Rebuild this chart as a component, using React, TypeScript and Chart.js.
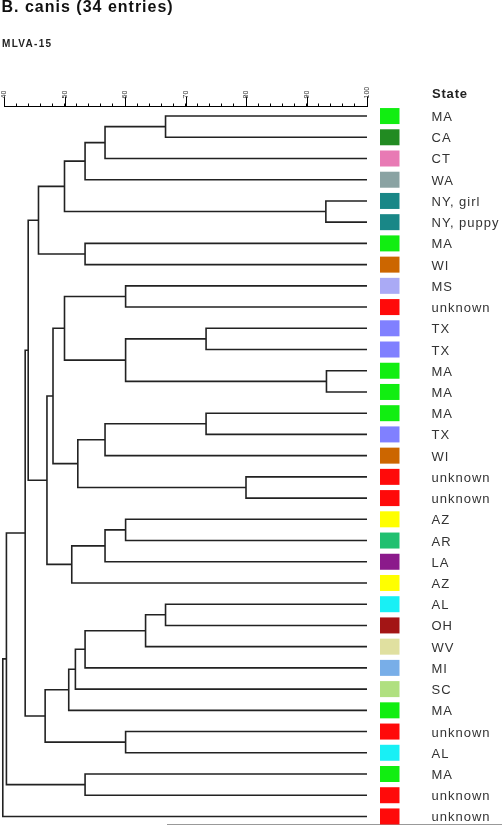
import React, { useEffect, useRef } from 'react';
import { Chart, registerables } from 'chart.js';

Chart.register(...registerables);

const states = ['MA', 'CA', 'CT', 'WA', 'NY, girl', 'NY, puppy', 'MA', 'WI', 'MS', 'unknown', 'TX', 'TX', 'MA', 'MA', 'MA', 'TX', 'WI', 'unknown', 'unknown', 'AZ', 'AR', 'LA', 'AZ', 'AL', 'OH', 'WV', 'MI', 'SC', 'MA', 'unknown', 'AL', 'MA', 'unknown', 'unknown'];

const stateColorMap: Record<string, string> = {
  'MA': '#11ee11', 'CA': '#228b22', 'CT': '#e87ab4', 'WA': '#8aa3a3', 'NY, girl': '#198787', 'NY, puppy': '#198787',
  'WI': '#cc6600', 'MS': '#aaaaf5', 'unknown': '#ff0a0a', 'TX': '#8080ff', 'AZ': '#ffff00', 'AR': '#20c070',
  'LA': '#8b1a8b', 'AL': '#18f0f5', 'OH': '#a31515', 'WV': '#e0e0a0', 'MI': '#78aee8', 'SC': '#b0e080',
};

// linkage: node 34+k merges mergeA[k] and mergeB[k] at similarity mergeHeight[k]
const mergeA = [0, 34, 35, 4, 36, 6, 38, 8, 10, 12, 42, 41, 14, 46, 17, 47, 45, 19, 51, 52, 50, 40, 23, 56, 57, 58, 59, 29, 60, 55, 31, 63, 65];
const mergeB = [1, 2, 3, 5, 37, 7, 39, 9, 11, 13, 43, 44, 15, 16, 18, 48, 49, 20, 21, 22, 53, 54, 24, 25, 26, 27, 28, 30, 61, 62, 32, 64, 33];
const mergeHeight = [66.7, 56.7, 53.4, 93.2, 50.0, 53.4, 45.7, 60.1, 73.4, 93.3, 60.1, 50.0, 73.4, 56.7, 80.0, 52.2, 48.1, 60.1, 56.7, 51.2, 47.1, 44.0, 66.7, 63.4, 53.4, 51.8, 50.7, 60.1, 46.8, 43.5, 53.4, 40.4, 39.8];
const leafLevel = 100;
const axisLabels = [40, 50, 60, 70, 80, 90, 100];

const FONT = 'Arial, "Liberation Sans", sans-serif';

export default function App() {
  const ref = useRef<HTMLCanvasElement | null>(null);

  useEffect(() => {
    const n = states.length;
    const nodeY: number[] = states.map((_, i) => i);
    const nodeH: number[] = states.map(() => leafLevel);
    const datasets: any[] = [];
    for (let k = 0; k < mergeA.length; k++) {
      const a = mergeA[k], b = mergeB[k], h = mergeHeight[k];
      const ya = nodeY[a], yb = nodeY[b];
      nodeY[n + k] = (ya + yb) / 2;
      nodeH[n + k] = h;
      datasets.push({
        data: [
          { x: nodeH[a], y: ya },
          { x: h, y: ya },
          { x: h, y: yb },
          { x: nodeH[b], y: yb },
        ],
        showLine: true,
        borderColor: '#222',
        borderWidth: 1.6,
        pointRadius: 0,
        fill: false,
        tension: 0,
        clip: false,
      });
    }

    const sidePlugin = {
      id: 'sidePlugin',
      afterDraw(chart: any) {
        const ctx = chart.ctx;
        const xs = chart.scales.x;
        const ys = chart.scales.y;
        const base = chart.chartArea.top;
        ctx.save();
        // major ticks and rotated labels
        ctx.strokeStyle = '#000';
        ctx.lineWidth = 1;
        axisLabels.forEach((v) => {
          const px = Math.round(xs.getPixelForValue(v)) + 0.5;
          ctx.beginPath();
          ctx.moveTo(px, base);
          ctx.lineTo(px, base - 10);
          ctx.stroke();
          ctx.save();
          ctx.translate(px, base - 8);
          ctx.rotate(-Math.PI / 2);
          ctx.fillStyle = '#333';
          ctx.font = `7px ${FONT}`;
          ctx.textAlign = 'left';
          ctx.textBaseline = 'middle';
          ctx.fillText(String(v), 0, 0);
          ctx.restore();
        });
        // bottom grey rule
        ctx.strokeStyle = '#999';
        ctx.beginPath();
        ctx.moveTo(167, 824.5);
        ctx.lineTo(502, 824.5);
        ctx.stroke();
        // colour boxes and labels
        states.forEach((s, i) => {
          const py = ys.getPixelForValue(i);
          ctx.fillStyle = stateColorMap[s];
          ctx.fillRect(380, py - 8, 19.5, 16);
          ctx.fillStyle = '#333';
          ctx.font = `13px ${FONT}`;
          (ctx as any).letterSpacing = '1px';
          ctx.textAlign = 'left';
          ctx.textBaseline = 'alphabetic';
          ctx.fillText(s, 431.5, py + 5);
        });
        ctx.restore();
      },
    };

    const chart = new Chart(ref.current as HTMLCanvasElement, {
      type: 'scatter',
      data: { datasets },
      options: {
        animation: false,
        responsive: false,
        events: [],
        layout: { padding: { left: 4, right: 135, top: 0, bottom: 0 } },
        plugins: { legend: { display: false }, tooltip: { enabled: false }, title: { display: false } },
        scales: {
          x: {
            type: 'linear',
            position: 'top',
            min: 40,
            max: 100,
            ticks: {
              stepSize: 2,
              autoSkip: false,
              display: false,
            },
            grid: { drawOnChartArea: false, drawTicks: true, tickLength: 3, tickColor: '#000', tickWidth: 1 },
            border: { display: true, color: '#000', width: 1 },
            afterFit: (s: any) => {
              s.height = 106.5;
              s.paddingLeft = 0;
              s.paddingRight = 0;
            },
          },
          y: {
            type: 'linear',
            min: -0.45,
            max: 33.45,
            reverse: true,
            display: false,
          },
        },
      } as any,
      plugins: [sidePlugin],
    });
    return () => chart.destroy();
  }, []);

  return (
    <div style={{ position: 'absolute', left: 0, top: 0, width: 502, height: 826, background: '#fff', overflow: 'hidden' }}>
      <canvas ref={ref} width={502} height={826} style={{ position: 'absolute', left: 0, top: 0, width: 502, height: 826 }} />
      <div style={{ position: 'absolute', left: 1.5, top: -0.8, font: `bold 16px/16px ${FONT}`, letterSpacing: '1px', color: '#111', whiteSpace: 'nowrap' }}>
        B. canis (34 entries)
      </div>
      <div style={{ position: 'absolute', left: 2, top: 39.2, font: `bold 10px/10px ${FONT}`, letterSpacing: '1.3px', color: '#222', whiteSpace: 'nowrap' }}>
        MLVA-15
      </div>
      <div style={{ position: 'absolute', left: 432, top: 86.7, font: `bold 13px/13px ${FONT}`, letterSpacing: '0.8px', color: '#222', whiteSpace: 'nowrap' }}>
        State
      </div>
    </div>
  );
}
